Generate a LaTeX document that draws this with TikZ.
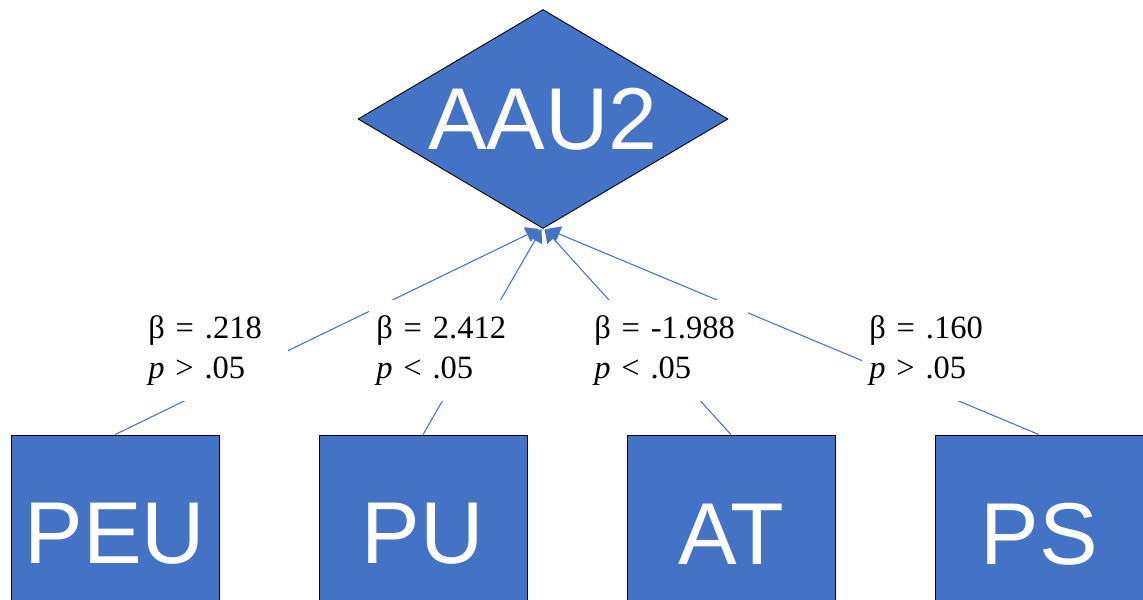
\documentclass[tikz,border=0pt]{standalone}
\usepackage{fontspec}
\setmainfont{Liberation Serif}
\newfontfamily\arialfont{Liberation Sans}
\usepackage{tikz}
\usetikzlibrary{shapes, positioning, arrows.meta}
\definecolor{boxblue}{RGB}{68,114,196}

\tikzset{
  factor/.style={rectangle, draw=black, line width=0.5pt, fill=boxblue, text=white,
    minimum width=4.16cm, minimum height=3.96cm, inner sep=0pt,
    font=\arialfont\fontsize{50}{60}\selectfont},
  outcome/.style={diamond, shape aspect=1.69, draw=black, line width=0.5pt, fill=boxblue, text=white,
    minimum width=7.4cm, minimum height=4.38cm, inner sep=0pt,
    font=\arialfont\fontsize{50}{60}\selectfont},
  effect/.style={->, draw=boxblue, line width=0.6pt},
  coef/.style={anchor=north west, fill=white, inner xsep=0.14cm, inner ysep=0.3cm,
    align=left, text width=2.9cm, font=\fontsize{18.5}{23}\selectfont}
}

\begin{document}
\begin{tikzpicture}[x=0.02cm, y=-0.02cm, >={Triangle[length=0.26cm, width=0.32cm]}]
  \useasboundingbox (0,0) rectangle (1143,599);
  \clip (0,0) rectangle (1143,599);

  \node[outcome] (AAU2) at (543,119) {AAU2};

  \node[factor] (PEU) at (115,534) {PEU};
  \node[factor] (PU) at (423,534) {PU};
  \node[factor] (AT) at (731,534) {AT};
  \node[factor] (PS) at (1039,534) {PS};

  \draw[effect] (PEU.north) -- ([xshift=-0.08cm]AAU2.south);
  \draw[effect] (PU.north) -- ([xshift=-0.03cm]AAU2.south);
  \draw[effect] (AT.north) -- ([xshift=0.03cm]AAU2.south);
  \draw[effect] (PS.north) -- ([xshift=0.08cm]AAU2.south);

  \node[coef, text width=2.66cm] (bPEU) at (141,300) {β = .218\\\textit{p} > .05};
  \node[coef] (bPU) at (369,300) {β = 2.412\\\textit{p} < .05};
  \node[coef, text width=2.94cm] (bAT) at (587,300) {β = -1.988\\\textit{p} < .05};
  \node[coef] (bPS) at (862,300) {β = .160\\\textit{p} > .05};
\end{tikzpicture}
\end{document}
